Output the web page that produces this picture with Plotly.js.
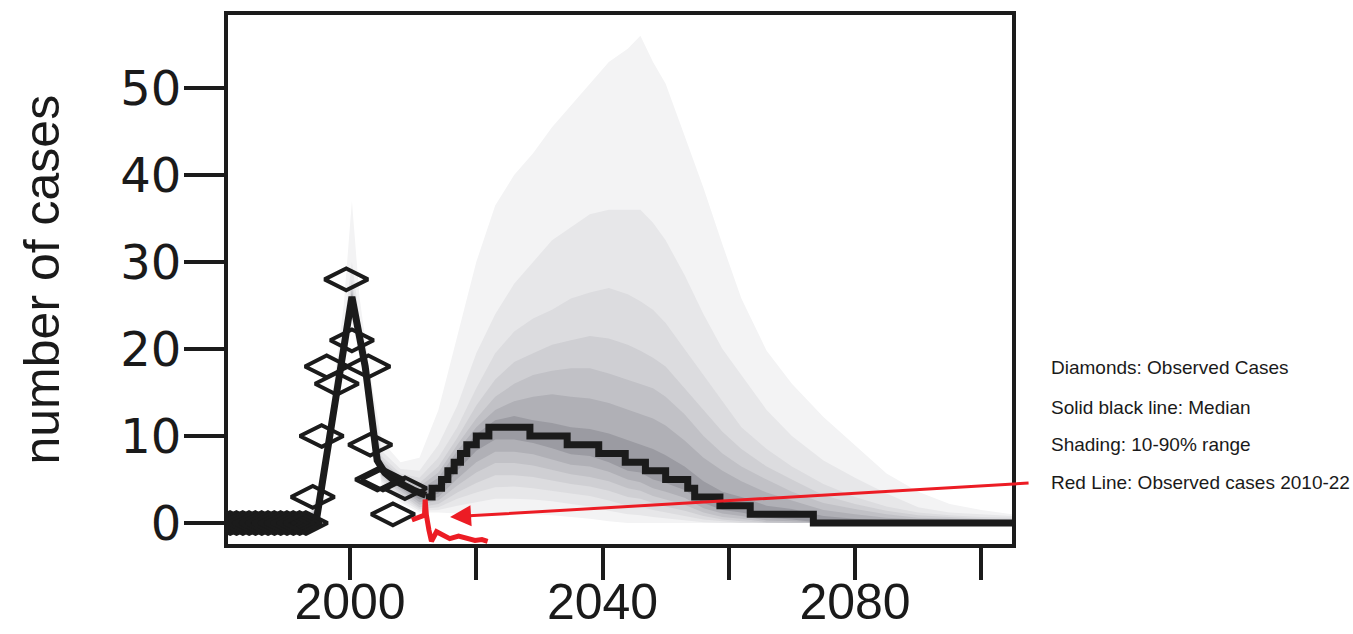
<!DOCTYPE html>
<html>
<head>
<meta charset="utf-8">
<script src="https://cdn.plot.ly/plotly-3.0.1.min.js"></script>
<style>
  html, body { margin: 0; padding: 0; background: #ffffff; }
  #chart { width: 1353px; height: 634px; }
</style>
</head>
<body>
<div id="chart"></div>
<script>
// ---------- data ----------
// observed cases (diamonds)
const obsYears = [1980, 1981, 1982, 1983, 1984, 1985, 1986, 1987, 1988, 1989, 1990, 1991, 1992, 1993,
                  1994.1, 1995.5, 1996.3, 1997.9, 1999.4, 2000.3, 2002.9, 2003.2, 2004.3, 2005.2, 2006.8, 2008.7];
const obsCases = [0, 0, 0, 0, 0, 0, 0, 0, 0, 0, 0, 0, 0, 0,
                  3, 10, 18, 16, 28, 21, 18, 9, 5, 5, 1, 4];

// median (fitted period)
const medFitYears = [1980, 1994.6, 2000.3, 2002.4, 2004.3, 2005.5, 2006.8, 2008.5, 2010, 2012];
const medFitVals  = [0, 0, 26, 18, 7.2, 5.8, 5, 4.3, 3.8, 3.2];

// median (projection, stepped)
const medProjYears = [2012, 2013, 2014.5, 2015.5, 2016.5, 2017.5, 2018.5, 2020, 2022, 2028.5, 2034.4,
                      2039.4, 2043.6, 2046.8, 2050, 2053.5, 2054.6, 2058.6, 2063.4, 2073.4, 2105];
const medProjVals  = [3, 4, 5, 6, 7, 8, 9, 10, 11, 10, 9, 8, 7, 6, 5, 4, 3, 2, 1, 0, 0];

// red line: observed cases 2010-22 (as drawn)
const redYears = [2009.8, 2011.1, 2011.8, 2011.9, 2012.1, 2012.5, 2012.9, 2013.7, 2014.7, 2015.8, 2017.2, 2018.5, 2019.8, 2020.9, 2021.8];
const redVals  = [0.35, 0.7, 0.9, 2.7, 0.9, -0.8, -2.1, -1.0, -1.4, -1.8, -1.5, -1.8, -2.0, -1.9, -2.1];

// shading: quantile levels (outer = 1 ... inner = 7)
const bandYears = [1980, 1993, 1995, 1997, 1999, 2000.3, 2001.5, 2003, 2005, 2008,
                   2011, 2014, 2017, 2020, 2023, 2026, 2029, 2032, 2035, 2038,
                   2041, 2044, 2046, 2048, 2050, 2053, 2056, 2059, 2062, 2066,
                   2070, 2075, 2080, 2085, 2090, 2095, 2100, 2105];

const upper1 = [0, 0.6, 3.5, 13.5, 25, 37, 26, 18, 9.5, 7,
                7.5, 13, 21.5, 30, 36.5, 40, 42.5, 45.5, 48, 50.5,
                53, 54.5, 56, 53, 50.5, 44.5, 38.5, 32, 25.8, 19.8,
                16, 12.2, 9, 5.7, 3.6, 2.2, 1.5, 1];
const upper2 = [0, 0.4, 2.8, 12.5, 22.5, 30, 23.5, 16.5, 8.3, 6.2,
                6, 9, 13.5, 19.5, 24, 27.5, 30, 32.5, 34, 35.5,
                36, 36, 36, 34.5, 32.5, 28.5, 24, 20, 17, 13,
                10, 7.2, 5.2, 3.4, 1.8, 1.2, 1, 0.8];
const upper3 = [0, 0.3, 2.5, 12, 21.5, 28, 22.8, 16, 7.7, 5.7,
                5.2, 7.5, 11, 15.5, 19.5, 22, 23.5, 24.5, 25.8, 26.5,
                27, 26.3, 25.5, 24.5, 23, 20, 17, 14, 11, 8.5,
                6.5, 4.5, 3, 1.9, 1.2, 0.9, 0.7, 0.6];
const upper4 = [0, 0.2, 2.2, 11.8, 21, 27.2, 22.4, 15.6, 7.3, 5.3,
                4.6, 6.5, 9.8, 13.5, 16.5, 18.5, 19.5, 20.5, 21, 21.5,
                21.2, 20.5, 19.8, 19, 18, 15.5, 13, 10.5, 8.5, 6.5,
                5, 3.2, 2.2, 1.4, 0.9, 0.7, 0.5, 0.4];
const upper5 = [0, 0.1, 2.1, 11.6, 20.7, 26.8, 22.1, 15.3, 7, 5,
                4.2, 5.8, 9, 12, 14.5, 16, 17, 17.5, 17.8, 17.8,
                17.2, 16.5, 16, 15.5, 14.5, 12.5, 10, 8, 6.5, 5,
                3.6, 2.3, 1.6, 1, 0.6, 0.5, 0.4, 0.3];
const upper6 = [0, 0.1, 2, 11.4, 20.5, 26.5, 21.9, 15.1, 6.8, 4.8,
                3.8, 5.2, 8.3, 11, 13, 14, 14.5, 14.8, 14.5, 14.3,
                13.8, 13, 12.5, 12, 11.2, 9.5, 7.5, 6, 4.8, 3.5,
                2.6, 1.5, 1, 0.6, 0.4, 0.3, 0.25, 0.2];
const upper7 = [0, 0, 1.9, 11.2, 20.3, 26.3, 21.7, 14.9, 6.6, 4.6,
                3.5, 4.6, 7.7, 10.2, 11.8, 12.3, 11.8, 11.5, 11, 10.8,
                10.3, 9.5, 9, 8.5, 7.8, 6.5, 4.8, 3.6, 3, 2,
                1.6, 0.8, 0.5, 0.3, 0.2, 0.15, 0.1, 0.1];

const lower7 = [0, 0, 1.7, 10.8, 19.7, 25.6, 21.1, 14.3, 6.2, 4.2,
                2.7, 3.4, 6, 8.3, 9.6, 9.6, 9.2, 8.6, 7.9, 7.7,
                7, 6, 5.8, 5, 4.6, 3.8, 2.3, 1.5, 1.2, 0.6,
                0.4, 0, 0, 0, 0, 0, 0, 0];
const lower6 = [0, 0, 1.6, 10.6, 19.4, 25.2, 20.8, 14, 6, 4,
                2.4, 3, 5.1, 7, 8.2, 8.2, 7.9, 7.3, 6.7, 6.5,
                5.9, 5, 4.7, 4, 3.6, 2.9, 1.7, 1.1, 0.8, 0.3,
                0.2, 0, 0, 0, 0, 0, 0, 0];
const lower5 = [0, 0, 1.5, 10.4, 19.1, 24.8, 20.5, 13.7, 5.7, 3.7,
                2.1, 2.6, 4.3, 5.8, 6.9, 6.9, 6.6, 6.1, 5.6, 5.3,
                4.8, 4, 3.7, 3.1, 2.7, 2.1, 1.2, 0.7, 0.5, 0.1,
                0, 0, 0, 0, 0, 0, 0, 0];
const lower4 = [0, 0, 1.3, 10.2, 18.8, 24.4, 20.2, 13.4, 5.4, 3.4,
                1.8, 2.2, 3.5, 4.6, 5.5, 5.5, 5.3, 4.9, 4.5, 4.2,
                3.7, 3, 2.8, 2.3, 1.9, 1.4, 0.8, 0.4, 0.2, 0,
                0, 0, 0, 0, 0, 0, 0, 0];
const lower3 = [0, 0, 1.1, 10, 18.5, 24, 19.9, 13.1, 5.1, 3.1,
                1.6, 1.8, 2.8, 3.5, 4.1, 4.2, 4, 3.7, 3.4, 3.1,
                2.6, 2, 1.9, 1.5, 1.2, 0.8, 0.4, 0.2, 0, 0,
                0, 0, 0, 0, 0, 0, 0, 0];
const lower2 = [0, 0, 0.9, 9.7, 18.2, 23.6, 19.6, 12.8, 4.8, 2.8,
                1.4, 1.5, 2, 2.4, 2.8, 2.8, 2.7, 2.5, 2.2, 1.9,
                1.4, 1, 0.9, 0.7, 0.5, 0.3, 0.1, 0, 0, 0,
                0, 0, 0, 0, 0, 0, 0, 0];
const lower1 = [0, 0, 0.7, 9.4, 17.8, 23, 19.2, 12.4, 4.4, 2.4,
                1.2, 1.2, 1.1, 1.1, 1.1, 1.1, 1, 0.9, 0.7, 0.5,
                0.2, 0, 0, 0, 0, 0, 0, 0, 0, 0,
                0, 0, 0, 0, 0, 0, 0, 0];

const bandColors = ['#f3f3f4', '#e7e7e9', '#dcdcdf', '#cfcfd3', '#c1c1c6', '#b0b0b6', '#9b9ba2'];

const xTickVals = [2000, 2020, 2040, 2060, 2080, 2100];
const xTickText = ['2000', '', '2040', '', '2080', ''];
const yTickVals = [0, 10, 20, 30, 40, 50];

const legendLines = ['Diamonds: Observed Cases', 'Solid black line: Median',
                     'Shading: 10-90% range', 'Red Line: Observed cases 2010-22'];

// ---------- build traces ----------
const uppers = [upper1, upper2, upper3, upper4, upper5, upper6, upper7];
const lowers = [lower1, lower2, lower3, lower4, lower5, lower6, lower7];
const revYears = bandYears.slice().reverse();
const traces = [];
for (let k = 0; k < uppers.length; k++) {
  traces.push({
    type: 'scatter', mode: 'lines',
    x: bandYears.concat(revYears),
    y: uppers[k].concat(lowers[k].slice().reverse()),
    fill: 'toself', fillcolor: bandColors[k],
    line: { width: 0, color: bandColors[k] },
    hoverinfo: 'skip', showlegend: false
  });
}
const ink = '#1b1b1b';
traces.push({
  type: 'scatter', mode: 'lines', x: medFitYears, y: medFitVals,
  line: { color: ink, width: 7 }, showlegend: false
});
traces.push({
  type: 'scatter', mode: 'lines', x: medProjYears, y: medProjVals,
  line: { color: ink, width: 7, shape: 'hv' }, showlegend: false
});
traces.push({
  type: 'scatter', mode: 'markers', x: obsYears, y: obsCases,
  marker: { symbol: 'diamond-wide-open', size: 31, color: ink, line: { width: 4, color: ink } },
  showlegend: false
});
traces.push({
  type: 'scatter', mode: 'lines', x: redYears, y: redVals,
  line: { color: '#ec1c24', width: 5 }, showlegend: false
});

const L = 228, R = 1012, T = 15, B = 544;
const W = 1353, H = 634;
const pw = R - L, ph = B - T;

const annotations = legendLines.map((t, i) => ({
  xref: 'paper', yref: 'paper',
  x: (1049 - L) / pw, y: (B - [368, 407, 444, 482][i]) / ph,
  xanchor: 'left', yanchor: 'middle',
  text: t, showarrow: false,
  font: { family: 'Liberation Sans, Arial, sans-serif', size: 19, color: '#1a1a1a' }
}));
annotations.push({
  xref: 'paper', yref: 'paper', x: (41 - L) / pw, y: 0.5,
  xanchor: 'center', yanchor: 'middle', textangle: -90,
  text: 'number of cases', showarrow: false,
  font: { family: 'Liberation Sans, Arial, sans-serif', size: 50, color: '#1a1a1a' }
});
annotations.push({
  xref: 'x', yref: 'y', x: 2015.85, y: 0.7,
  ax: 580, ay: -34, axref: 'pixel', ayref: 'pixel',
  text: '', showarrow: true, arrowhead: 2, arrowsize: 1.4, arrowwidth: 3,
  arrowcolor: '#ec1c24', standoff: 0
});

const layout = {
  width: W, height: H,
  margin: { l: L, r: W - R, t: T, b: H - B, pad: 0 },
  paper_bgcolor: '#ffffff', plot_bgcolor: '#ffffff',
  showlegend: false,
  xaxis: {
    range: [1980.67, 2104.87],
    tickmode: 'array', tickvals: xTickVals, ticktext: xTickText,
    ticks: 'outside', ticklen: 32, tickwidth: 4, tickcolor: ink,
    showline: true, linewidth: 4, linecolor: ink, mirror: true,
    showgrid: false, zeroline: false, ticklabelstandoff: -21,
    tickfont: { family: 'Liberation Sans, Arial, sans-serif', size: 50, color: '#1a1a1a' }
  },
  yaxis: {
    range: [-2.41, 58.39],
    tickmode: 'array', tickvals: yTickVals,
    ticks: 'outside', ticklen: 40, tickwidth: 4, tickcolor: ink,
    showline: true, linewidth: 4, linecolor: ink, mirror: true,
    showgrid: false, zeroline: false, ticklabelstandoff: -7,
    tickfont: { family: 'DejaVu Sans, sans-serif', size: 48, color: '#1a1a1a' }
  },
  annotations: annotations
};

Plotly.newPlot('chart', traces, layout, { staticPlot: true, displayModeBar: false });
</script>
</body>
</html>
